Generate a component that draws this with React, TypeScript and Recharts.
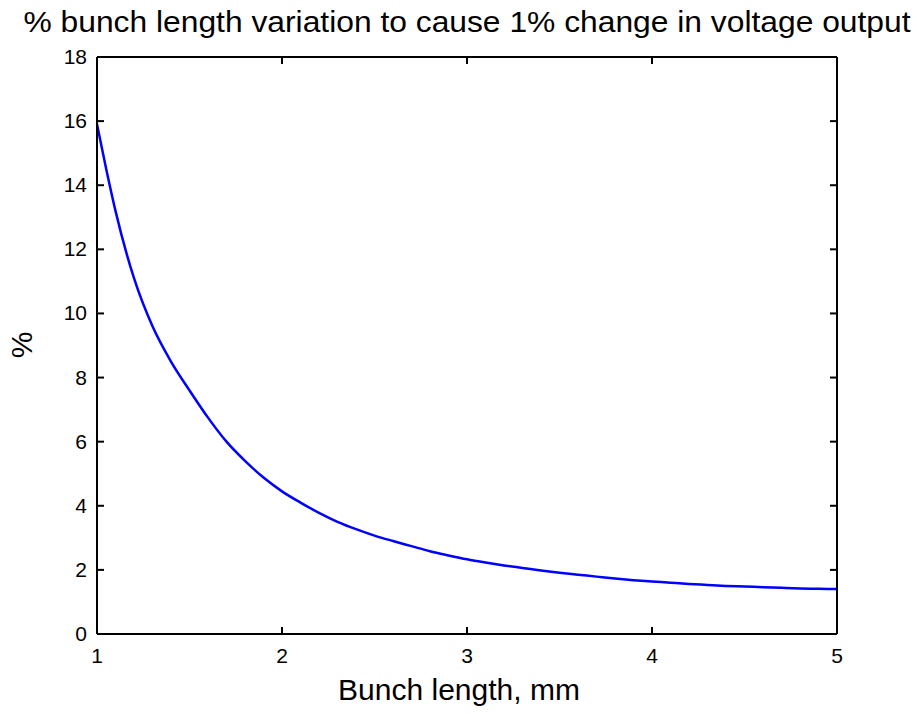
import React from "react";
import { Line, LineChart, XAxis, YAxis, Label } from "recharts";

// values
const bunchLength = [
  1.0, 1.05, 1.1, 1.2, 1.3, 1.4, 1.5, 1.6, 1.7, 1.8, 1.9, 2.0, 2.1, 2.2, 2.3, 2.4, 2.5, 2.6, 2.7, 2.8,
  2.9, 3.0, 3.1, 3.2, 3.3, 3.4, 3.5, 3.6, 3.7, 3.8, 3.9, 4.0, 4.1, 4.2, 4.3, 4.4, 4.5, 4.6, 4.7, 4.8,
  4.9, 5.0,
];
const percentVariation = [
  15.9, 14.5, 13.2, 11.1, 9.6, 8.5, 7.6, 6.75, 6.0, 5.4, 4.88, 4.45, 4.1, 3.78, 3.5, 3.27, 3.07, 2.9,
  2.74, 2.58, 2.45, 2.33, 2.23, 2.14, 2.06, 1.98, 1.91, 1.85, 1.79, 1.73, 1.68, 1.64, 1.6, 1.56, 1.53,
  1.5, 1.48, 1.46, 1.44, 1.42, 1.41, 1.4,
];
const xTicks = [1, 2, 3, 4, 5];
const yTicks = [0, 2, 4, 6, 8, 10, 12, 14, 16, 18];

const title = "% bunch length variation to cause 1% change in voltage output";
const xLabel = "Bunch length, mm";
const yLabel = "%";

const data = bunchLength.map((x, i) => ({ x, y: percentVariation[i] }));

const FONT = "'Liberation Sans', Arial, Helvetica, sans-serif";
const TICK_LEN = 7;
const GAP_Y = 10; // gap between y axis and its labels
const GAP_X = 14; // gap between x axis and its labels
const PLOT_W = 740; // 917 - margins - axis widths

// matlab style: tick marks point inward, on both sides of the box
const renderLeftTick = (props: any) => {
  const { x, y, payload } = props;
  const ax = x + GAP_Y;
  return (
    <g>
      <line x1={ax} x2={ax + TICK_LEN} y1={y} y2={y} stroke="#000" strokeWidth={2} />
      <line x1={ax + PLOT_W} x2={ax + PLOT_W - TICK_LEN} y1={y} y2={y} stroke="#000" strokeWidth={2} />
      <text x={x} y={y + 7} textAnchor="end" fontSize={21} fontFamily={FONT} fill="#000">
        {payload.value}
      </text>
    </g>
  );
};

const renderBottomTick = (props: any) => {
  const { x, y, payload } = props;
  const ay = y - GAP_X;
  return (
    <g>
      <line x1={x} x2={x} y1={ay} y2={ay - TICK_LEN} stroke="#000" strokeWidth={2} />
      <text x={x} y={y + 15} textAnchor="middle" fontSize={21} fontFamily={FONT} fill="#000">
        {payload.value}
      </text>
    </g>
  );
};

const renderTopTick = (props: any) => {
  const { x, y } = props;
  return <line x1={x} x2={x} y1={y} y2={y + TICK_LEN} stroke="#000" strokeWidth={2} />;
};

export default function App() {
  return (
    <div style={{ position: "absolute", left: 0, top: 0, width: 917, height: 714, background: "#fff" }}>
      <svg width={917} height={50} style={{ position: "absolute", left: 0, top: 0 }}>
        <text
          x={467}
          y={32}
          textAnchor="middle"
          fontSize={30}
          fontFamily={FONT}
          fill="#000"
          textLength={887}
          lengthAdjust="spacingAndGlyphs"
        >
          {title}
        </text>
      </svg>
      <div style={{ position: "absolute", left: 0, top: 0 }}>
        <LineChart width={917} height={714} data={data} margin={{ top: 47, right: 70, left: 37, bottom: 40 }}>
          <XAxis
            xAxisId="b"
            dataKey="x"
            type="number"
            domain={[1, 5]}
            ticks={xTicks}
            height={40}
            stroke="#000"
            strokeWidth={2}
            tickLine={false}
            tickSize={0}
            tickMargin={GAP_X}
            tick={renderBottomTick}
            interval={0}
          >
            <Label
              content={() => (
                <text x={459} y={700} textAnchor="middle" fontSize={30} fontFamily={FONT} fill="#000">
                  {xLabel}
                </text>
              )}
            />
          </XAxis>
          <XAxis
            xAxisId="t"
            dataKey="x"
            type="number"
            orientation="top"
            domain={[1, 5]}
            ticks={xTicks}
            height={10}
            stroke="#000"
            strokeWidth={2}
            tickLine={false}
            tickSize={0}
            tickMargin={0}
            tick={renderTopTick}
            interval={0}
          />
          <YAxis
            yAxisId="l"
            type="number"
            domain={[0, 18]}
            ticks={yTicks}
            width={60}
            stroke="#000"
            strokeWidth={2}
            tickLine={false}
            tickSize={0}
            tickMargin={GAP_Y}
            tick={renderLeftTick}
            interval={0}
          >
            <Label
              content={() => (
                <text
                  x={32}
                  y={345}
                  textAnchor="middle"
                  fontSize={30}
                  fontFamily={FONT}
                  fill="#000"
                  transform="rotate(-90 32 345)"
                >
                  {yLabel}
                </text>
              )}
            />
          </YAxis>
          <YAxis
            yAxisId="r"
            type="number"
            orientation="right"
            domain={[0, 18]}
            ticks={yTicks}
            width={10}
            stroke="#000"
            strokeWidth={2}
            tickLine={false}
            tick={false}
          />
          <Line
            xAxisId="b"
            yAxisId="l"
            type="monotone"
            dataKey="y"
            stroke="#0000ff"
            strokeWidth={2.5}
            dot={false}
            isAnimationActive={false}
          />
        </LineChart>
      </div>
    </div>
  );
}
